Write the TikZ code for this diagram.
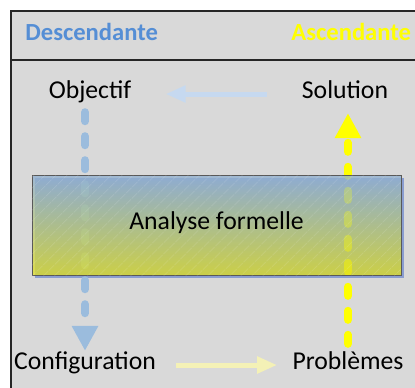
\documentclass[tikz,border=0pt]{standalone}
\usepackage{fontspec}
\setmainfont{Carlito}
\usetikzlibrary{arrows.meta,patterns.meta}
\definecolor{fond}{HTML}{D9D9D9}
\definecolor{bleu}{HTML}{558ED5}
\definecolor{bleuclair}{HTML}{C6D9F0}
\definecolor{bleupoint}{HTML}{9BBCDD}
\definecolor{jaune}{HTML}{FFFF00}
\definecolor{jauneclair}{HTML}{F4F1B6}
\definecolor{haut}{HTML}{8FB0D4}
\definecolor{bas}{HTML}{DEDE22}
\definecolor{ombre}{HTML}{8A9DD0}
\pgfdeclarelayer{cadre}
\pgfdeclarelayer{ombre}
\pgfdeclarelayer{lignes}
\pgfsetlayers{cadre,ombre,lignes,main}
\begin{document}
\begin{tikzpicture}[x=0.5pt,y=-0.5pt,
    every node/.style={inner sep=0pt,font=\fontsize{12.85}{15}\selectfont,
      text height=0.68em,text depth=0.2em},
    titre/.style={font=\fontsize{12.3}{15}\selectfont\bfseries},
    fleche/.style={line width=2.5pt,-{Triangle[width=8pt,length=10pt]}},
    pointille/.style={line width=4pt,line cap=round,dash pattern=on 4.5pt off 7.5pt,
      -{Triangle[width=12.5pt,length=12.5pt]}},
    analyse/.style={draw=black!65,line width=0.4pt,minimum width=184.5pt,minimum height=50pt,
      top color=haut,bottom color=bas,fill opacity=0.78,text opacity=1,
      postaction={pattern={Lines[angle=45,distance=4pt,line width=0.3pt]},
        pattern color=white,fill opacity=0.2}}]
  \useasboundingbox (0,0) rectangle (415,387);
  \begin{pgfonlayer}{cadre}
    \filldraw[fill=fond,draw=black!85,line width=0.6pt] (11,11) rectangle (440,410);
    \draw[black!85,line width=0.6pt] (11,60) -- (440,60);
  \end{pgfonlayer}
  % titres
  \node[titre,text=bleu,anchor=west] (desc) at (25,36) {Descendante};
  \node[titre,text=jaune,anchor=west] (asc) at (291,36) {Ascendante};
  % etapes
  \node (obj) at (90,94) {Objectif};
  \node (sol) at (345,94) {Solution};
  \node (conf) at (85,365) {Configuration};
  \node (prob) at (348,365) {Problèmes};
  \node[analyse] (ana) at (216.5,225) {Analyse formelle};
  \begin{pgfonlayer}{ombre}
    \fill[ombre] ([shift={(1.5pt,-1.5pt)}]ana.south west) rectangle ([shift={(1.5pt,-1.5pt)}]ana.north east);
  \end{pgfonlayer}
  \begin{pgfonlayer}{lignes}
    \draw[pointille,bleupoint] ([yshift=-4.5pt]obj.south -| conf.north) -- ([yshift=2.5pt]conf.north);
    \draw[pointille,jaune] ([yshift=6pt]prob.north) -- ([yshift=-5pt]prob.north |- sol.south);
  \end{pgfonlayer}
  \draw[fleche,bleuclair,shorten <=17.5pt,shorten >=17pt] (sol.west) -- (obj.east);
  \draw[fleche,jauneclair,shorten <=10pt,shorten >=7.5pt] (conf.east) -- (prob.west);
\end{tikzpicture}
\end{document}
